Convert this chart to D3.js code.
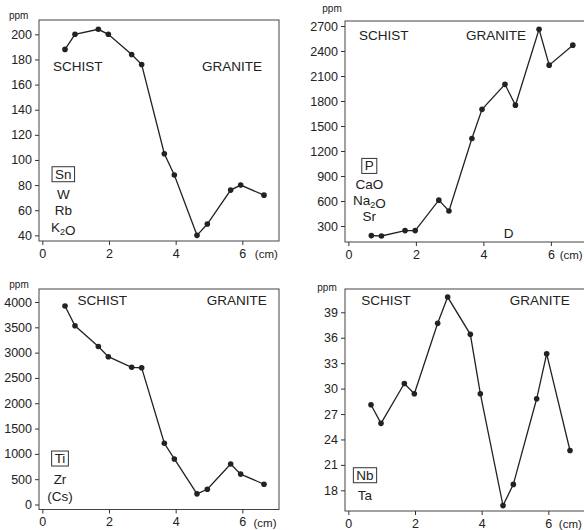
<!DOCTYPE html>
<html>
<head>
<meta charset="utf-8">
<script src="https://cdn.jsdelivr.net/npm/d3@7"></script>
<style>
  body { margin: 0; background: #fff; }
  text { font-family: "Liberation Sans", Arial, sans-serif; fill: #222; }
</style>
</head>
<body>
<div id="chart"></div>
<script>
// distance from contact (cm), same sample positions in each panel
var distance = [0.68, 0.98, 1.68, 1.98, 2.68, 2.98, 3.66, 3.96, 4.64, 4.95, 5.65, 5.95, 6.65];

var snValues = [188, 200, 204, 200, 184, 176, 105, 88, 40, 49, 76, 80, 72];
var pValues  = [185, 180, 245, 245, 610, 480, 1350, 1700, 2000, 1750, 2660, 2230, 2470];
var tiValues = [3920, 3530, 3120, 2920, 2710, 2700, 1210, 900, 210, 300, 800, 600, 400];
var nbValues = [28.1, 25.9, 30.6, 29.4, 37.7, 40.8, 36.4, 29.4, 16.2, 18.7, 28.8, 34.1, 22.7];

var snTicks = [40, 60, 80, 100, 120, 140, 160, 180, 200];
var pTicks  = [300, 600, 900, 1200, 1500, 1800, 2100, 2400, 2700];
var tiTicks = [0, 500, 1000, 1500, 2000, 2500, 3000, 3500, 4000];
var nbTicks = [18, 21, 24, 27, 30, 33, 36, 39];
var xTicks  = [0, 2, 4, 6];

var snElements = ['Sn', 'W', 'Rb', 'K2O'];
var pElements  = ['P', 'CaO', 'Na2O', 'Sr'];
var tiElements = ['Ti', 'Zr', '(Cs)'];
var nbElements = ['Nb', 'Ta'];

var width = 584, height = 530;

var svg = d3.select('#chart').append('svg')
    .attr('width', width)
    .attr('height', height);

// frame box in pixels, y domain, label offsets relative to frame top-left
var panels = [
  { values: snValues, ticks: snTicks, elements: snElements, yDomain: [35.5, 211.4],
    box: [39, 20, 279, 241], schist: [38.7, 46.7], granite: [193, 46.7],
    el: { x: 24.3, y: [154, 174.3, 190, 207.7] }, ppm: [-20.3, -0.7], cm: 6.72 },
  { values: pValues, ticks: pTicks, elements: pElements, yDomain: [108, 2760],
    box: [345, 21, 588, 242], schist: [38.7, 14.7], granite: [151, 14.7],
    el: { x: 24.3, y: [144.7, 163.3, 179.7, 195.7] }, ppm: [-13, -8.7], d: [163.7, 212.3], cm: 6.6 },
  { values: tiValues, ticks: tiTicks, elements: tiElements, yDomain: [-99, 4257],
    box: [39, 289, 279, 509.5], schist: [63.3, 11.7], granite: [197.7, 11.7],
    el: { x: 21, y: [169.3, 190.3, 207] }, ppm: [-20, -1.3], cm: 6.68 },
  { values: nbValues, ticks: nbTicks, elements: nbElements, yDomain: [15.56, 41.75],
    box: [345, 289, 585, 511], schist: [41, 11.7], granite: [194.7, 11.7],
    el: { x: 20, y: [186, 206] }, ppm: [-18, 2], cm: 6.66 }
];

// write chemical formula with digits as subscripts
function formula(sel, str) {
  str.split(/(\d)/).forEach(function (part) {
    if (!part) return;
    if (/\d/.test(part)) {
      sel.append('tspan').attr('font-size', 9).attr('dy', 3).text(part);
      sel.append('tspan').attr('dy', -3).text('');
    } else {
      sel.append('tspan').text(part);
    }
  });
}

panels.forEach(function (p) {
  var left = p.box[0], top = p.box[1], right = p.box[2], bottom = p.box[3];
  var x = d3.scaleLinear().domain([-0.1, 7.1]).range([left, right]);
  var y = d3.scaleLinear().domain(p.yDomain).range([bottom, top]);
  var g = svg.append('g');

  g.append('rect')
    .attr('x', left).attr('y', top)
    .attr('width', right - left).attr('height', bottom - top)
    .attr('fill', 'none').attr('stroke', '#444').attr('stroke-width', 1);

  var yAxis = g.append('g')
    .attr('transform', 'translate(' + left + ',0)')
    .call(d3.axisLeft(y).tickValues(p.ticks).tickFormat(d3.format('d')).tickSize(4).tickPadding(3));
  var xAxis = g.append('g')
    .attr('transform', 'translate(0,' + bottom + ')')
    .call(d3.axisBottom(x).tickValues(xTicks).tickFormat(d3.format('d')).tickSize(4).tickPadding(4));
  [yAxis, xAxis].forEach(function (a) {
    a.select('.domain').remove();
    a.selectAll('line').attr('stroke', '#333');
    a.selectAll('text').attr('font-size', 12.5).attr('fill', '#222')
      .style('font-family', '"Liberation Sans", Arial, sans-serif');
  });

  g.append('text')
    .attr('x', x(p.cm)).attr('y', bottom + 17)
    .attr('text-anchor', 'middle').attr('font-size', 11.5)
    .text('(cm)');

  g.append('text')
    .attr('x', left + p.ppm[0]).attr('y', top + p.ppm[1])
    .attr('text-anchor', 'middle').attr('font-size', 10)
    .text('ppm');

  g.append('path')
    .datum(p.values)
    .attr('fill', 'none').attr('stroke', '#222').attr('stroke-width', 1.3)
    .attr('d', d3.line().x(function (d, i) { return x(distance[i]); }).y(function (d) { return y(d); }));

  g.selectAll('circle').data(p.values).enter().append('circle')
    .attr('cx', function (d, i) { return x(distance[i]); })
    .attr('cy', function (d) { return y(d); })
    .attr('r', 2.8).attr('fill', '#222');

  g.append('text')
    .attr('x', left + p.schist[0]).attr('y', top + p.schist[1])
    .attr('dy', '0.35em').attr('text-anchor', 'middle').attr('font-size', 13.5)
    .text('SCHIST');
  g.append('text')
    .attr('x', left + p.granite[0]).attr('y', top + p.granite[1])
    .attr('dy', '0.35em').attr('text-anchor', 'middle').attr('font-size', 13.5)
    .text('GRANITE');

  p.elements.forEach(function (name, i) {
    var t = g.append('text')
      .attr('x', left + p.el.x).attr('y', top + p.el.y[i])
      .attr('dy', '0.35em').attr('text-anchor', 'middle').attr('font-size', 13.5);
    formula(t, name);
    if (i === 0) {
      var bb = t.node().getBBox();
      g.append('rect')
        .attr('x', bb.x - 3).attr('y', bb.y)
        .attr('width', bb.width + 6).attr('height', bb.height)
        .attr('fill', 'none').attr('stroke', '#333').attr('stroke-width', 1);
    }
  });

  if (p.d) {
    g.append('text')
      .attr('x', left + p.d[0]).attr('y', top + p.d[1])
      .attr('dy', '0.35em').attr('text-anchor', 'middle').attr('font-size', 13.5)
      .text('D');
  }
});
</script>
</body>
</html>
